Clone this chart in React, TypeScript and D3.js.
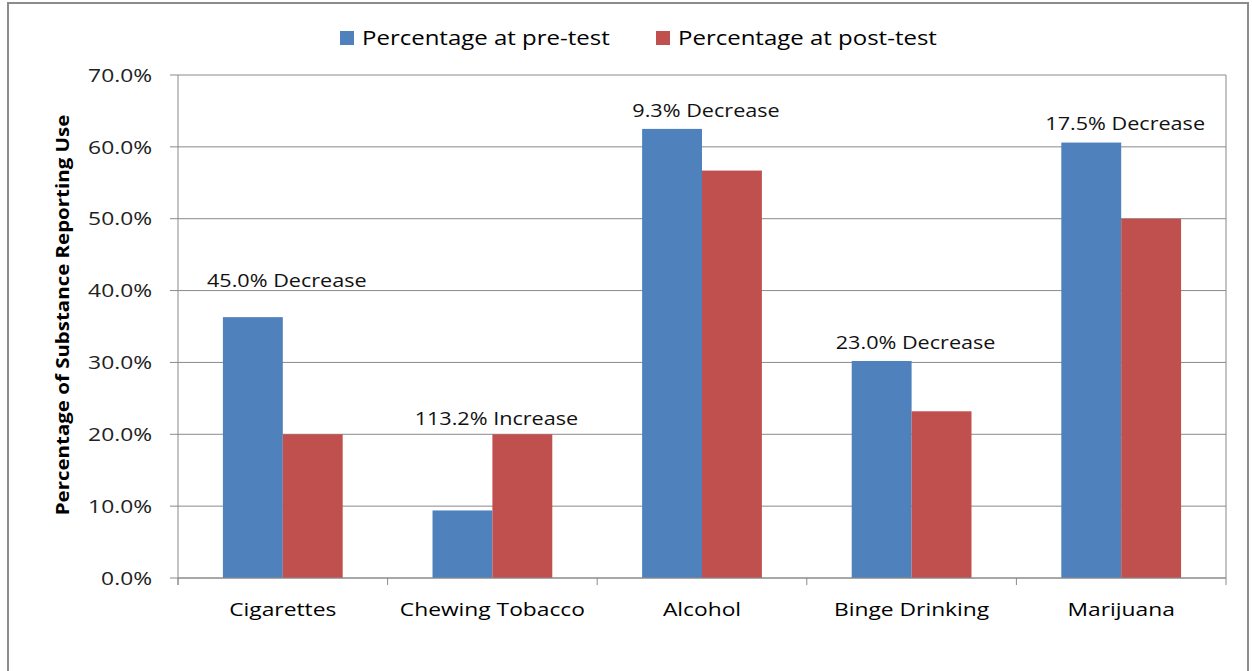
import React from 'react';
import { scaleBand, scaleLinear, format } from 'd3';

const categories = ['Cigarettes', 'Chewing Tobacco', 'Alcohol', 'Binge Drinking', 'Marijuana'];
const series = ['Percentage at pre-test', 'Percentage at post-test'];
const preTest = [0.363, 0.094, 0.625, 0.302, 0.606];
const postTest = [0.2, 0.2, 0.567, 0.232, 0.5];
const changeLabels = ['45.0% Decrease', '113.2% Increase', '9.3% Decrease', '23.0% Decrease', '17.5% Decrease'];
// where the change labels sit, in axis units
const changeLabelAt = [0.405, 0.213, 0.642, 0.319, 0.623];
const yTicks = [0, 0.1, 0.2, 0.3, 0.4, 0.5, 0.6, 0.7];

const colors = ['#4F81BD', '#C0504D'];
const font = '"Open Sans", sans-serif';
const STRETCH = 1.2; // the source text is drawn wide

// text stretched horizontally around its anchor
function WideText({ x, y, anchor = 'start', size, children, fill = '#000', weight = 'normal', dy = '0' }) {
    return (
        <g transform={`translate(${x}, ${y}) scale(${STRETCH}, 1)`}>
            <text x={0} y={0} dy={dy} textAnchor={anchor} fontSize={size} fill={fill} fontWeight={weight}>{children}</text>
        </g>
    );
}

export default function App() {
    const W = 1252, H = 671;
    const left = 178, right = 1226, top = 75, bottom = 578;

    const x0 = scaleBand().domain(categories).range([left, right]).paddingInner(0).paddingOuter(0);
    const x1 = scaleBand().domain(series).range([0, x0.bandwidth()]).paddingInner(0).paddingOuter(0.75);
    const y = scaleLinear().domain([0, 0.7]).range([bottom, top]);
    const fmt = format('.1%');
    const values = [preTest, postTest];

    return (
        <svg width={W} height={H} style={{ position: 'absolute', left: 0, top: 0, background: '#fff' }}
            fontFamily={font}>
            {/* frame */}
            <rect x={8} y={3} width={1240} height={720} fill="none" stroke="#8c8c8c" strokeWidth={2} />

            {/* legend */}
            {series.map((s, i) => {
                const lx = i === 0 ? 340 : 656;
                return (
                    <g key={s}>
                        <rect x={lx} y={31} width={14} height={14} fill={colors[i]} />
                        <WideText x={lx + 22} y={38} dy="0.35em" size={20}>{s}</WideText>
                    </g>
                );
            })}

            {/* gridlines + y axis */}
            {yTicks.map(t => (
                <g key={t}>
                    <line x1={170} x2={right} y1={y(t)} y2={y(t)} stroke="#8a8a8a" strokeWidth={1} />
                    <WideText x={152} y={y(t)} dy="0.35em" anchor="end" size={19} fill="#222">{fmt(t)}</WideText>
                </g>
            ))}
            <line x1={left} x2={left} y1={top} y2={bottom + 7} stroke="#8a8a8a" strokeWidth={1} />
            <line x1={right} x2={right} y1={top} y2={bottom} stroke="#8a8a8a" strokeWidth={1} />

            {/* bars */}
            {categories.map((c, ci) => (
                <g key={c} transform={`translate(${x0(c)}, 0)`}>
                    {series.map((s, si) => (
                        <rect key={s} x={x1(s)} y={y(values[si][ci])} width={x1.bandwidth()}
                            height={y(0) - y(values[si][ci])} fill={colors[si]} />
                    ))}
                </g>
            ))}

            {/* x axis */}
            <line x1={left} x2={right} y1={bottom} y2={bottom} stroke="#8a8a8a" strokeWidth={1} />
            {[...categories.map(c => x0(c)), right].map((v, i) => (
                <line key={i} x1={v} x2={v} y1={bottom} y2={bottom + 7} stroke="#8a8a8a" strokeWidth={1} />
            ))}
            {categories.map(c => (
                <WideText key={c} x={x0(c) + x0.bandwidth() / 2} y={609} dy="0.35em" anchor="middle"
                    size={19}>{c}</WideText>
            ))}

            {/* change labels */}
            {categories.map((c, i) => (
                <WideText key={c} x={x0(c) + x0.bandwidth() / 2 + 4} y={y(changeLabelAt[i])} anchor="middle"
                    size={18} fill="#111">{changeLabels[i]}</WideText>
            ))}

            {/* y title */}
            <g transform="translate(69, 315) rotate(-90) scale(1.17, 1)">
                <text textAnchor="middle" fontSize={17.5} fontWeight="bold" fill="#000">
                    Percentage of Substance Reporting Use
                </text>
            </g>
        </svg>
    );
}
